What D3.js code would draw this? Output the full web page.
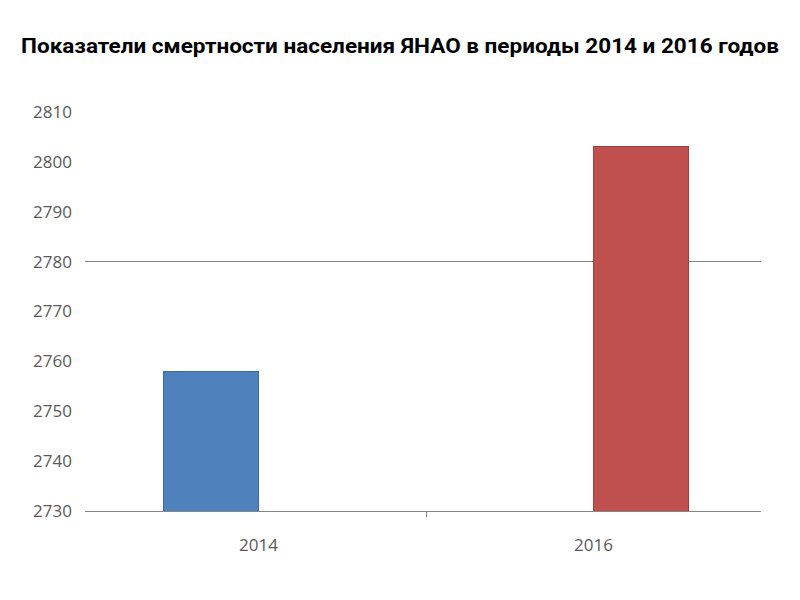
<!DOCTYPE html>
<html><head><meta charset="utf-8">
<script src="https://cdn.jsdelivr.net/npm/d3@7"></script>
<style>body{margin:0;background:#fff}</style>
</head><body>
<svg id="c" width="800" height="600"></svg>
<script>
const title = "Показатели смертности населения ЯНАО в периоды 2014 и 2016 годов";
const categories = ["2014", "2016"];
const seriesNames = ["2014", "2016"];
const series2014 = [2758, null];
const series2016 = [null, 2803];
const seriesColors = ["#4F81BD", "#C0504D"];
const seriesStroke = ["#3E6A9E", "#9E3F3C"];
const yTicks = [2730, 2740, 2750, 2760, 2770, 2780, 2790, 2800, 2810];
const gridValues = [2780];

const svg = d3.select("#c");
const W = 800, H = 600;
const lineL = 85, lineR = 761;
const x0 = d3.scaleBand().domain(categories).range([91, 761]).padding(0);
const y = d3.scaleLinear().domain([2730, 2810]).range([511, 112]);

svg.append("text").attr("x", 400).attr("y", 53).attr("text-anchor", "middle")
  .attr("font-family", "Liberation Sans Narrow, Roboto, Arial, sans-serif").attr("font-weight", "bold")
  .attr("font-size", 20).attr("fill", "#000")
  .attr("textLength", 758).attr("lengthAdjust", "spacingAndGlyphs").text(title);

// y labels
const ya = d3.axisLeft(y).tickValues(yTicks).tickSize(0).tickPadding(13).tickFormat(d3.format("d"));
const yg = svg.append("g").attr("transform", `translate(${lineL},0)`).call(ya);
yg.select(".domain").remove();
yg.selectAll("text").attr("font-family", "Open Sans, Noto Sans, sans-serif").attr("font-size", 17).attr("fill", "#595959");

// gridline
svg.append("g").selectAll("line").data(gridValues).join("line")
  .attr("x1", lineL).attr("x2", lineR).attr("y1", d => y(d)).attr("y2", d => y(d))
  .attr("stroke", "#868686").attr("stroke-width", 1).attr("shape-rendering", "crispEdges");

// bars
const bandW = x0.bandwidth();
const groupW = bandW * 0.565;
const x1 = d3.scaleBand().domain(seriesNames).range([0, groupW]).padding(0);
const data = [series2014, series2016];
data.forEach((vals, si) => {
  svg.append("g").selectAll("rect").data(categories.map((c, i) => ({c, v: vals[i]})).filter(d => d.v != null))
    .join("rect")
    .attr("x", d => x0(d.c) + (bandW - groupW) / 2 + x1(seriesNames[si]))
    .attr("width", x1.bandwidth())
    .attr("y", d => y(d.v)).attr("height", d => y(2730) - y(d.v))
    .attr("fill", seriesColors[si]).attr("stroke", seriesStroke[si]).attr("stroke-width", 1)
    .attr("shape-rendering", "crispEdges");
});

// x axis
const xa = d3.axisBottom(x0).tickSize(0).tickPadding(28);
const xg = svg.append("g").attr("transform", `translate(0,${y(2730)})`).call(xa);
xg.select(".domain").remove();
xg.append("line").attr("x1", lineL).attr("x2", lineR).attr("y1", 0).attr("y2", 0)
  .attr("stroke", "#868686").attr("shape-rendering", "crispEdges");
xg.selectAll("text").attr("font-family", "Open Sans, Noto Sans, sans-serif").attr("font-size", 17).attr("fill", "#595959");
// boundary tick between categories
xg.append("line").attr("x1", x0("2016")).attr("x2", x0("2016")).attr("y1", 0).attr("y2", 6)
  .attr("stroke", "#868686").attr("shape-rendering", "crispEdges");
</script>
</body></html>
